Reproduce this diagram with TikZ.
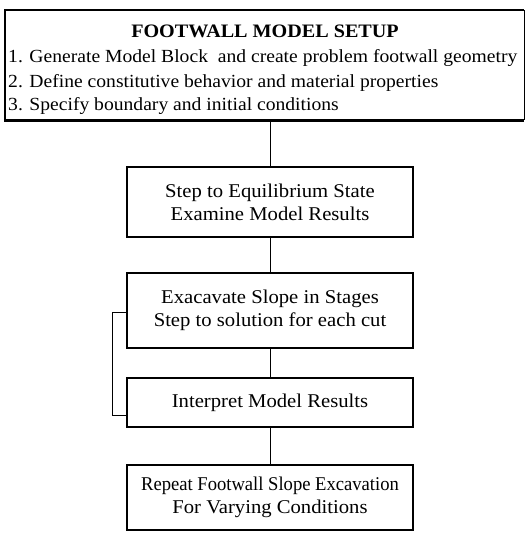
\documentclass[tikz,border=0pt]{standalone}
\usepackage{graphicx}
\usepackage{fontspec}
\setmainfont{Liberation Serif}[FakeStretch=1.06]
\begin{document}
\begin{tikzpicture}[x=1pt,y=-1pt,
  box/.style={draw, line width=2.4pt, rectangle, inner sep=0pt, align=center,
    font=\fontsize{19.5}{23}\selectfont, minimum width=286pt},
  txt/.style={inner sep=0pt, font=\fontsize{18.5}{23}\selectfont},
  conn/.style={line width=0.9pt}]
\useasboundingbox (0,0) rectangle (526,533);
% top box
\node[draw=none, minimum width=519pt, minimum height=110pt, inner sep=0pt] (top) at (264.5,65) {};
\draw[line width=2.6pt] (top.north east) -- (top.north west) -- (top.south west) -- (top.south east);
\draw[line width=1pt] (top.north east) -- (top.south east);
\node[txt, font=\fontsize{19}{23}\selectfont\bfseries, anchor=base] (title) at (265,37) {FOOTWALL MODEL SETUP};
\node[txt, anchor=base west] (l1) at (8,62) {1. Generate Model Block\ \ and create problem footwall geometry};
\node[txt, anchor=base west] (l2) at (8,87) {2. Define constitutive behavior and material properties};
\node[txt, anchor=base west] (l3) at (8,110) {3. Specify boundary and initial conditions};
% boxes
\node[box, minimum height=70pt] (b2) at (270,202) {Step to Equilibrium State\\Examine Model Results};
\node[box, minimum height=75pt] (b3) at (270,310.5) {Exacavate Slope in Stages\\Step to solution for each cut};
\node[box, minimum height=49pt] (b4) at (270,402.5) {Interpret Model Results};
\node[box, minimum height=65pt] (b5) at (270,497.5) {\scalebox{0.9}[1]{Repeat Footwall Slope Excavation}\\For Varying Conditions};
% connectors
\draw[conn] (b2.north) -- (b2.north |- top.south);
\draw[conn] (b3.north) -- (b2.south);
\draw[conn] (b4.north) -- (b3.south);
\draw[conn] (b5.north) -- (b4.south);
\coordinate (la) at (112,312);
\coordinate (lb) at (112,415);
\draw[conn] (b3.west |- la) -- (la) -- (lb) -- (b4.west |- lb);
\end{tikzpicture}
\end{document}
